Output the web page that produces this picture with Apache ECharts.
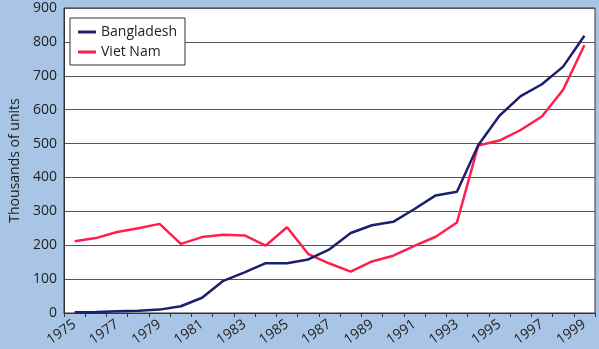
<!DOCTYPE html>
<html>
<head>
<meta charset="utf-8">
<script src="https://cdn.jsdelivr.net/npm/echarts@6/dist/echarts.min.js"></script>
<style>
  html, body { margin: 0; padding: 0; background: #a9c5e5; }
  #chart { width: 599px; height: 349px; }
</style>
</head>
<body>
<div id="chart"></div>
<script>
// Years on the horizontal axis
const years = ['1975','1976','1977','1978','1979','1980','1981','1982','1983','1984',
  '1985','1986','1987','1988','1989','1990','1991','1992','1993','1994',
  '1995','1996','1997','1998','1999'];

// Thousands of units per year
const bangladesh = [2, 3, 5, 7, 10, 20, 45, 95, 120, 147,
  147, 158, 188, 236, 259, 269, 307, 347, 358, 495,
  582, 640, 675, 727, 818];
const vietNam = [212, 221, 239, 250, 263, 204, 224, 231, 229, 199,
  253, 174, 146, 122, 152, 169, 198, 225, 267, 494,
  509, 540, 580, 659, 790];

const yTicks = [0, 100, 200, 300, 400, 500, 600, 700, 800, 900];

const font = '"Open Sans", "DejaVu Sans", sans-serif';
const chart = echarts.init(document.getElementById('chart'), null, { renderer: 'canvas' });

chart.setOption({
  backgroundColor: '#a9c5e5',
  animation: false,
  grid: {
    left: 57, right: 4, top: 8, bottom: 36,
    show: true, backgroundColor: '#ffffff', borderColor: '#333333', borderWidth: 1
  },
  legend: {
    left: 70, top: 18, width: 113, height: 48,
    orient: 'vertical',
    padding: [7, 8, 6, 8],
    itemGap: 6,
    itemWidth: 18, itemHeight: 3,
    icon: 'rect',
    backgroundColor: '#ffffff',
    borderColor: '#333333', borderWidth: 1,
    textStyle: { fontFamily: font, fontSize: 14, color: '#222' },
    data: ['Bangladesh', 'Viet Nam']
  },
  xAxis: {
    type: 'category',
    data: years,
    boundaryGap: true,
    axisLine: { lineStyle: { color: '#333', width: 1 } },
    axisTick: { show: true, length: 4, interval: 0, lineStyle: { color: '#333' } },
    axisLabel: {
      interval: 1, rotate: 35, margin: 10,
      fontFamily: font, fontSize: 14, color: '#222'
    },
    splitLine: { show: false }
  },
  yAxis: {
    type: 'value',
    min: yTicks[0], max: yTicks[yTicks.length - 1], interval: 100,
    name: 'Thousands of units',
    nameLocation: 'middle',
    nameGap: 42,
    nameTextStyle: { fontFamily: font, fontSize: 14, color: '#222' },
    axisLine: { show: true, lineStyle: { color: '#333' } },
    axisTick: { show: false },
    axisLabel: { fontFamily: font, fontSize: 14, color: '#222', margin: 7 },
    splitLine: { show: true, lineStyle: { color: '#555', width: 1.2 } }
  },
  series: [
    {
      name: 'Bangladesh', type: 'line', data: bangladesh,
      symbol: 'none', color: '#1b1f6e',
      lineStyle: { width: 2.5, color: '#1b1f6e' }, z: 3
    },
    {
      name: 'Viet Nam', type: 'line', data: vietNam,
      symbol: 'none', color: '#ff1f4e',
      lineStyle: { width: 2.5, color: '#ff1f4e' }, z: 2
    }
  ]
});
</script>
</body>
</html>
